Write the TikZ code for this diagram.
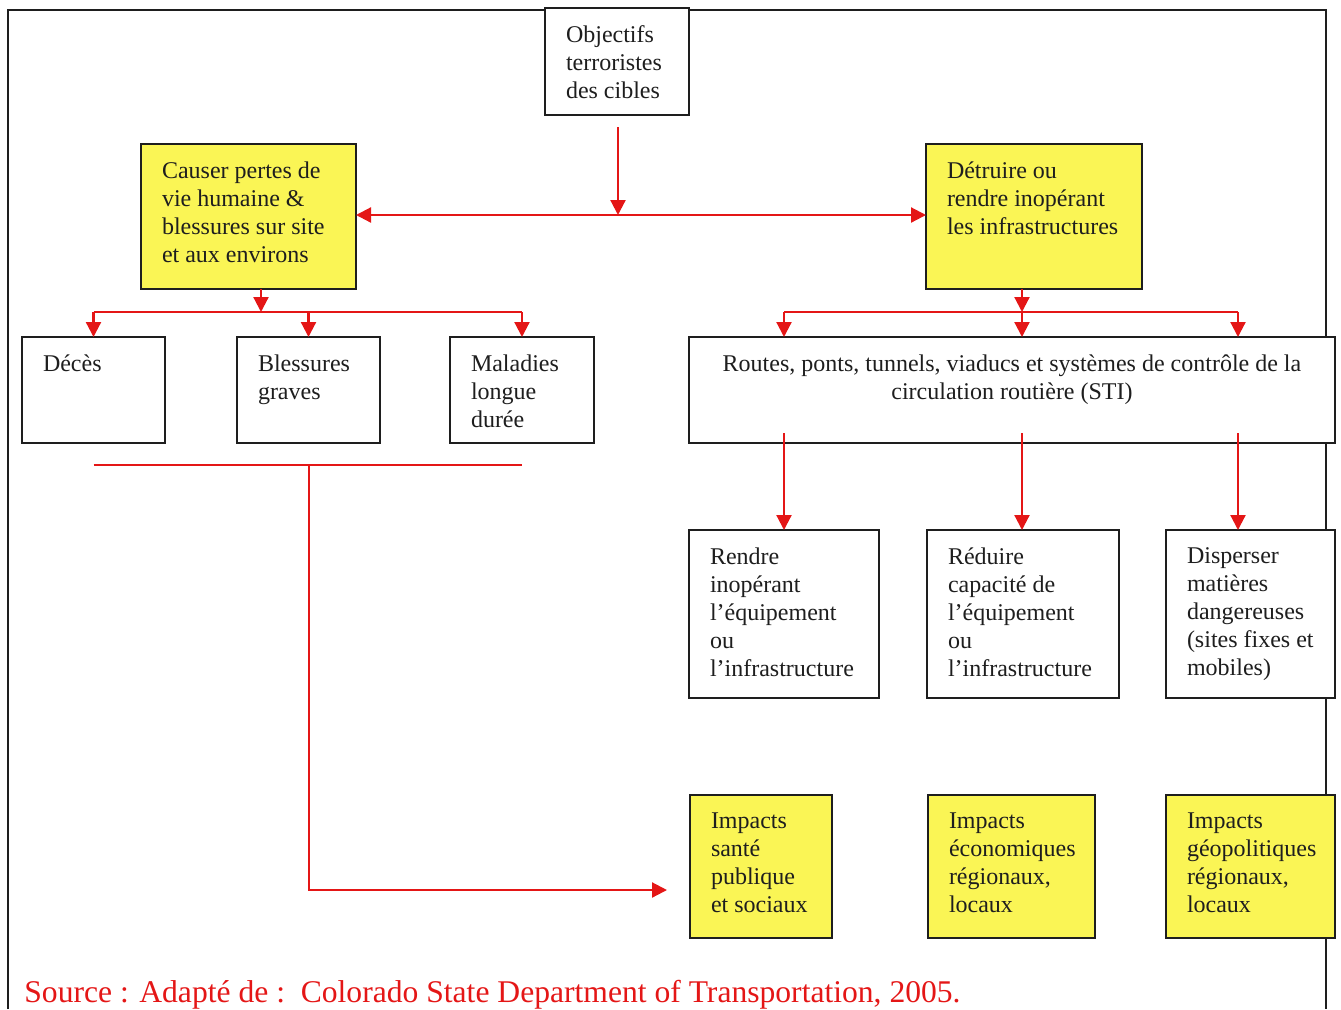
\documentclass[tikz,border=0pt]{standalone}
\usepackage{fontspec}
\setmainfont{Liberation Serif}
\usetikzlibrary{arrows.meta}
\definecolor{boxyellow}{RGB}{250,245,85}
\definecolor{linkred}{RGB}{228,22,22}
\definecolor{inkdark}{RGB}{30,30,30}
% top-aligned, left-aligned box text: width, box height, lines
\newcommand\boxtext[3]{\parbox[c][\dimexpr #2-18pt\relax][t]{#1}{\raggedright\leftskip=10.5pt\relax #3}}
% top-aligned, centred box text
\newcommand\boxtextc[3]{\parbox[c][\dimexpr #2-18pt\relax][t]{#1}{\centering #3}}

\begin{document}
\begin{tikzpicture}[x=0.5pt,y=-0.5pt,
  every node/.style={font=\fontsize{12}{14}\selectfont, text=inkdark},
  stepbox/.style={draw=inkdark, line width=1pt, fill=white, inner xsep=0pt,
    inner ysep=9pt, outer sep=0pt, anchor=north west},
  goalbox/.style={stepbox, fill=boxyellow},
  link/.style={draw=linkred, line width=1.1pt},
  arr/.style={link, -{Triangle[length=7.5pt,width=7.5pt]}},
]
\useasboundingbox (0,0) rectangle (1341,1009);

% outer frame (open at the bottom)
\draw[inkdark, line width=1pt] (8,1009) -- (8,10) -- (1326,10) -- (1326,1009);

% top level
\node[stepbox] (obj) at (545,8) {\boxtext{72pt}{53.5pt}{Objectifs\\terroristes\\des cibles}};
\node[goalbox] (causer) at (141,144) {\boxtext{107.5pt}{72.5pt}{Causer pertes de\\vie humaine \&\\blessures sur site\\et aux environs}};
\node[goalbox] (detruire) at (926,144) {\boxtext{108pt}{72.5pt}{Détruire ou\\rendre inopérant\\les infrastructures}};

% human consequences
\node[stepbox] (deces) at (22,337) {\boxtext{71.5pt}{53pt}{Décès}};
\node[stepbox] (blessures) at (237,337) {\boxtext{71.5pt}{53pt}{Blessures\\graves}};
\node[stepbox] (maladies) at (450,337) {\boxtext{72pt}{53pt}{Maladies\\longue\\durée}};

% infrastructure branch
\node[stepbox, inner xsep=10.5pt] (sti) at (689,337) {\boxtextc{302pt}{53pt}{Routes, ponts, tunnels, viaducs et systèmes de contrôle de la\\circulation routière (STI)}};
\node[stepbox] (rendre) at (689,530) {\boxtext{95pt}{84pt}{Rendre\\inopérant\\l’équipement\\ou\\l’infrastructure}};
\node[stepbox] (reduire) at (927,530) {\boxtext{96pt}{84pt}{Réduire\\capacité de\\l’équipement\\ou\\l’infrastructure}};
\node[stepbox] (disperser) at (1166,530) {\boxtext{84.5pt}{84pt}{Disperser\\matières\\dangereuses\\(sites fixes et\\mobiles)}};

% impacts
\node[goalbox] (imp1) at (690,795) {\boxtext{71pt}{71.5pt}{Impacts\\santé\\publique\\et sociaux}};
\node[goalbox] (imp2) at (928,795) {\boxtext{83.5pt}{71.5pt}{Impacts\\économiques\\régionaux,\\locaux}};
\node[goalbox] (imp3) at (1166,795) {\boxtext{84.5pt}{71.5pt}{Impacts\\géopolitiques\\régionaux,\\locaux}};

% junction points
\coordinate (j0) at (618,215);
\coordinate (j1) at (261,312);
\coordinate (j2) at (1022,312);
\coordinate (c1) at (784,433);
\coordinate (c2) at (1022,433);
\coordinate (c3) at (1238,433);
\coordinate (b0) at (309,465);
\coordinate (k) at (667,890);

% from the objectives to the two aims
\draw[arr, shorten <=6pt] (obj.south -| j0) -- (j0);
\draw[arr] (j0) -- (causer.east |- j0);
\draw[arr] (j0) -- (detruire.west |- j0);

% left fan
\draw[arr] (causer.south -| j1) -- (j1);
\draw[link] (deces.north |- j1) -- (maladies.north |- j1);
\foreach \n in {deces,blessures,maladies}
  \draw[arr] (\n.north |- j1) -- (\n.north);

% right fan
\draw[arr] (detruire.south -| j2) -- (j2);
\draw[link] (c1 |- j2) -- (c3 |- j2);
\foreach \c in {c1,c2,c3}
  \draw[arr] (\c |- j2) -- (\c |- sti.north);

% from the infrastructure box down
\draw[arr] (c1) -- (c1 |- rendre.north);
\draw[arr] (c2) -- (c2 |- reduire.north);
\draw[arr] (c3) -- (c3 |- disperser.north);

% human consequences to public-health impacts
\draw[link] (deces.south |- b0) -- (maladies.south |- b0);
\draw[arr] (b0) |- (k);

% source line
\node[anchor=base west, text=linkred, font=\fontsize{15.8}{18}\selectfont, inner sep=0pt] (src) at (24,1002)
  {Source : Adapté de :\ \ Colorado State Department of Transportation, 2005.};
\end{tikzpicture}
\end{document}
